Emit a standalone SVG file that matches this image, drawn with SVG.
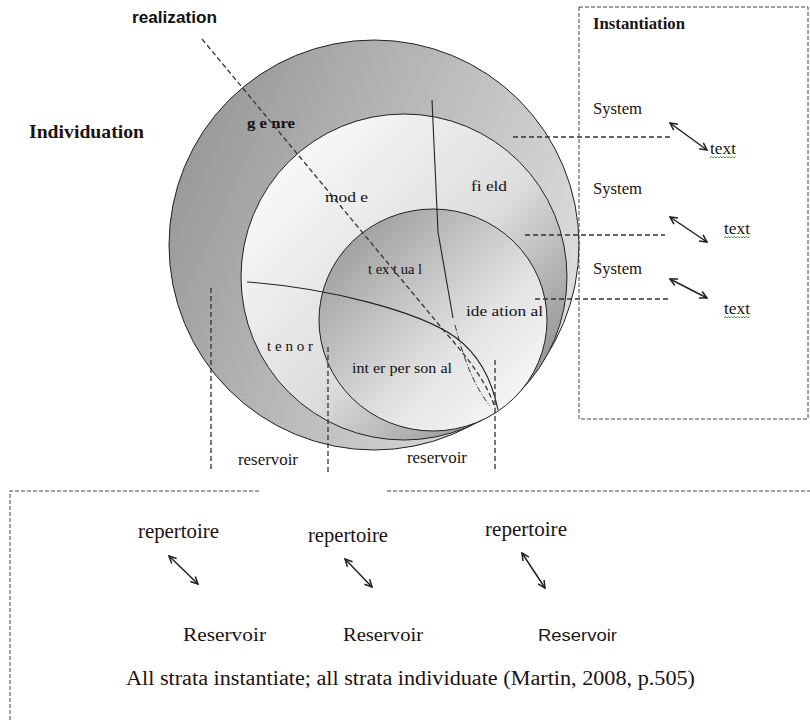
<svg xmlns="http://www.w3.org/2000/svg" width="810" height="720" viewBox="0 0 810 720">
  <defs>
    <linearGradient id="gOuter" x1="0" y1="0.1" x2="1" y2="0.55">
      <stop offset="0" stop-color="#929292"/>
      <stop offset="1" stop-color="#dcdcdc"/>
    </linearGradient>
    <linearGradient id="gMiddle" x1="0.1" y1="0.1" x2="0.95" y2="0.9">
      <stop offset="0" stop-color="#fbfbfb"/>
      <stop offset="0.55" stop-color="#dcdcdc"/>
      <stop offset="1" stop-color="#858585"/>
    </linearGradient>
    <linearGradient id="gInner" x1="0.1" y1="0.1" x2="0.9" y2="0.9">
      <stop offset="0" stop-color="#9c9c9c"/>
      <stop offset="0.65" stop-color="#e4e4e4"/>
      <stop offset="1" stop-color="#f8f8f8"/>
    </linearGradient>
    <marker id="arr" viewBox="0 0 10 10" refX="9" refY="5" markerWidth="9" markerHeight="9" orient="auto-start-reverse" markerUnits="userSpaceOnUse">
      <path d="M1,1 L9,5 L1,9" fill="none" stroke="#222" stroke-width="1.7"/>
    </marker>
  </defs>
  <style>
    .ring { stroke: #222; stroke-width: 1; }
    .dash { fill: none; stroke: #333; stroke-width: 1.3; stroke-dasharray: 5 3; }
    .box { fill: none; stroke: #444; stroke-width: 1; stroke-dasharray: 4 2; }
    .solid { fill: none; stroke: #222; stroke-width: 1.1; }
    .dd { fill: none; stroke: #333; stroke-width: 1; stroke-dasharray: 6 2 1 2; }
    .dbl { stroke: #222; stroke-width: 1.5; marker-start: url(#arr); marker-end: url(#arr); }
    .serif { font-family: "Liberation Serif", "Times New Roman", serif; fill: #1c1212; }
    .lbl { font-family: "Liberation Serif", "Times New Roman", serif; fill: #111; font-size: 15px; }
    .wave { fill: none; stroke: #3c9a3c; stroke-width: 0.9; }
  </style>

  <rect width="810" height="720" fill="#ffffff"/>

  <!-- nested strata circles -->
  <g id="genre">
    <circle class="ring" cx="374" cy="245" r="205" fill="url(#gOuter)"/>
    <text x="247" y="128" class="lbl" font-weight="bold" font-size="16" textLength="48" lengthAdjust="spacingAndGlyphs">g e nre</text>
  </g>
  <g id="register">
    <circle class="ring" cx="404" cy="277" r="163" fill="url(#gMiddle)"/>
    <text x="325" y="202" class="lbl" textLength="43" lengthAdjust="spacingAndGlyphs">mod e</text>
    <text x="471" y="191" class="lbl" textLength="36" lengthAdjust="spacingAndGlyphs">fi eld</text>
    <text x="267" y="351" class="lbl" textLength="46" lengthAdjust="spacingAndGlyphs">t e n o r</text>
  </g>
  <g id="language">
    <ellipse class="ring" cx="433" cy="320" rx="114" ry="111" fill="url(#gInner)"/>
    <text x="368" y="274" class="lbl" textLength="54" lengthAdjust="spacingAndGlyphs">t ex t ua l</text>
    <text x="466" y="316" class="lbl" textLength="77" lengthAdjust="spacingAndGlyphs">ide ation al</text>
    <text x="352" y="373" class="lbl" textLength="100" lengthAdjust="spacingAndGlyphs">int er per son al</text>
  </g>

  <!-- connectors -->
  <g id="connectors">
    <!-- metafunction boundaries -->
    <path class="solid" d="M432,100 L438,232 L453,318"/>
    <path class="dd" d="M455,325 C462,352 471,382 490,406"/>
    <path class="solid" d="M247,282 C330,288 420,312 455,337 C480,355 492,380 498,410"/>
    <!-- realization axis -->
    <path class="dash" d="M202,39 L445,332 C470,360 488,385 495,408"/>
    <!-- links to instantiation -->
    <line class="dash" x1="513" y1="137" x2="670" y2="137"/>
    <line class="dash" x1="525" y1="235" x2="665" y2="235"/>
    <line class="dash" x1="535" y1="299" x2="670" y2="299"/>
    <!-- links to individuation -->
    <line class="dash" x1="211" y1="288" x2="211" y2="472"/>
    <line class="dash" x1="328" y1="347" x2="328" y2="472"/>
    <line class="dash" x1="495" y1="360" x2="495" y2="472"/>
    <!-- system / text clines -->
    <line class="dbl" x1="670" y1="123" x2="707" y2="150"/>
    <line class="dbl" x1="670" y1="217" x2="707" y2="242"/>
    <line class="dbl" x1="670" y1="279" x2="707" y2="298"/>
    <!-- repertoire / reservoir clines -->
    <line class="dbl" x1="169" y1="556" x2="198" y2="584"/>
    <line class="dbl" x1="345" y1="559" x2="372" y2="587"/>
    <line class="dbl" x1="522" y1="553" x2="545" y2="588"/>
  </g>

  <!-- instantiation panel -->
  <g id="instantiation">
    <rect class="box" x="579" y="7" width="229" height="412"/>
    <text x="593" y="29" class="serif" font-size="16" font-weight="bold" fill="#111" textLength="92" lengthAdjust="spacingAndGlyphs">Instantiation</text>
    <text x="593" y="114" class="serif" font-size="16.5" textLength="49" lengthAdjust="spacingAndGlyphs">System</text>
    <text x="593" y="194" class="serif" font-size="16.5" textLength="49" lengthAdjust="spacingAndGlyphs">System</text>
    <text x="593" y="274" class="serif" font-size="16.5" textLength="49" lengthAdjust="spacingAndGlyphs">System</text>
    <text x="710" y="154" class="serif" font-size="17" textLength="26" lengthAdjust="spacingAndGlyphs">text</text>
    <text x="724" y="234" class="serif" font-size="17" textLength="26" lengthAdjust="spacingAndGlyphs">text</text>
    <text x="724" y="314" class="serif" font-size="17" textLength="26" lengthAdjust="spacingAndGlyphs">text</text>
    <path class="wave" d="M710,158 l1.5,-1.5 l1.5,1.5 l1.5,-1.5 l1.5,1.5 l1.5,-1.5 l1.5,1.5 l1.5,-1.5 l1.5,1.5 l1.5,-1.5 l1.5,1.5 l1.5,-1.5 l1.5,1.5 l1.5,-1.5 l1.5,1.5 l1.5,-1.5 l1.5,1.5 l1.5,-1.5"/>
    <path class="wave" d="M724,238 l1.5,-1.5 l1.5,1.5 l1.5,-1.5 l1.5,1.5 l1.5,-1.5 l1.5,1.5 l1.5,-1.5 l1.5,1.5 l1.5,-1.5 l1.5,1.5 l1.5,-1.5 l1.5,1.5 l1.5,-1.5 l1.5,1.5 l1.5,-1.5 l1.5,1.5 l1.5,-1.5"/>
    <path class="wave" d="M724,318 l1.5,-1.5 l1.5,1.5 l1.5,-1.5 l1.5,1.5 l1.5,-1.5 l1.5,1.5 l1.5,-1.5 l1.5,1.5 l1.5,-1.5 l1.5,1.5 l1.5,-1.5 l1.5,1.5 l1.5,-1.5 l1.5,1.5 l1.5,-1.5 l1.5,1.5 l1.5,-1.5"/>
  </g>

  <!-- axis titles -->
  <g id="titles">
    <text x="132" y="23" font-family="Liberation Sans, Arial, sans-serif" font-size="17" font-weight="bold" fill="#111" textLength="85" lengthAdjust="spacingAndGlyphs">realization</text>
    <text x="29" y="138" class="serif" font-size="19" font-weight="bold" fill="#111" textLength="115" lengthAdjust="spacingAndGlyphs">Individuation</text>
  </g>

  <!-- reservoir labels under the circles -->
  <g id="reservoirs">
    <text x="238" y="465" class="serif" font-size="17" fill="#3a1616" textLength="60" lengthAdjust="spacingAndGlyphs">reservoir</text>
    <text x="407" y="463" class="serif" font-size="17" fill="#3a1616" textLength="60" lengthAdjust="spacingAndGlyphs">reservoir</text>
  </g>

  <!-- individuation panel -->
  <g id="individuation">
    <path class="box" d="M10,720 L10,491 L261,491 M387,491 L810,491"/>
    <text x="138" y="538" class="serif" font-size="20" fill="#3a1616" textLength="81" lengthAdjust="spacingAndGlyphs">repertoire</text>
    <text x="308" y="542" class="serif" font-size="20" fill="#3a1616" textLength="80" lengthAdjust="spacingAndGlyphs">repertoire</text>
    <text x="485" y="536" class="serif" font-size="20" fill="#3a1616" textLength="82" lengthAdjust="spacingAndGlyphs">repertoire</text>
    <text x="183" y="641" class="serif" font-size="19" fill="#1a1a1a" textLength="83" lengthAdjust="spacingAndGlyphs">Reservoir</text>
    <text x="343" y="641" class="serif" font-size="19" fill="#1a1a1a" textLength="80" lengthAdjust="spacingAndGlyphs">Reservoir</text>
    <text x="538" y="641" font-family="Liberation Sans, Arial, sans-serif" font-size="17" fill="#1a1a1a" textLength="79" lengthAdjust="spacingAndGlyphs">Reservoir</text>
    <text x="126" y="685" class="serif" font-size="20" fill="#1a1a1a" textLength="569" lengthAdjust="spacingAndGlyphs">All strata instantiate; all strata individuate (Martin, 2008, p.505)</text>
  </g>
</svg>
